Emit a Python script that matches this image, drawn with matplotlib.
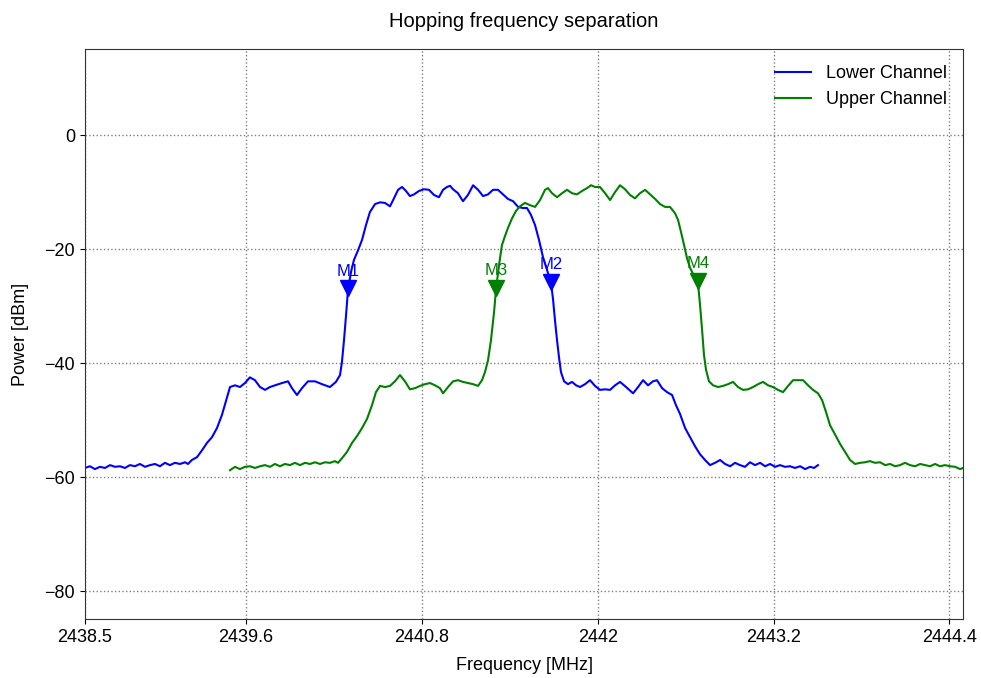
import matplotlib
matplotlib.use("Agg")
import matplotlib.pyplot as plt

plt.rcParams['font.family'] = ['Liberation Sans', 'DejaVu Sans']

# ---- data (MHz, dBm) ----
lower_freq = [2438.500, 2438.534, 2438.568, 2438.602, 2438.637, 2438.671, 2438.705, 2438.739,
              2438.773, 2438.807, 2438.841, 2438.875, 2438.910, 2438.944, 2438.978, 2439.012,
              2439.046, 2439.080, 2439.114, 2439.149, 2439.183, 2439.203, 2439.230, 2439.265,
              2439.299, 2439.333, 2439.367, 2439.401, 2439.435, 2439.469, 2439.490, 2439.524,
              2439.558, 2439.592, 2439.626, 2439.660, 2439.695, 2439.729, 2439.763, 2439.797,
              2439.845, 2439.886, 2439.913, 2439.947, 2439.981, 2440.022, 2440.070, 2440.118,
              2440.172, 2440.213, 2440.241, 2440.254, 2440.268, 2440.282, 2440.295, 2440.316,
              2440.336, 2440.364, 2440.391, 2440.418, 2440.445, 2440.480, 2440.514, 2440.548,
              2440.582, 2440.609, 2440.637, 2440.664, 2440.691, 2440.718, 2440.746, 2440.780,
              2440.814, 2440.848, 2440.882, 2440.916, 2440.944, 2440.971, 2440.992, 2441.012,
              2441.046, 2441.080, 2441.114, 2441.149, 2441.183, 2441.217, 2441.251, 2441.285,
              2441.319, 2441.353, 2441.387, 2441.422, 2441.456, 2441.490, 2441.517, 2441.544,
              2441.572, 2441.599, 2441.626, 2441.654, 2441.681, 2441.695, 2441.708, 2441.722,
              2441.736, 2441.749, 2441.770, 2441.797, 2441.824, 2441.852, 2441.879, 2441.913,
              2441.947, 2441.981, 2442.015, 2442.050, 2442.084, 2442.118, 2442.152, 2442.193,
              2442.241, 2442.275, 2442.309, 2442.343, 2442.377, 2442.404, 2442.439, 2442.473,
              2442.507, 2442.534, 2442.561, 2442.596, 2442.630, 2442.664, 2442.698, 2442.732,
              2442.766, 2442.800, 2442.835, 2442.869, 2442.903, 2442.937, 2442.971, 2443.005,
              2443.039, 2443.073, 2443.108, 2443.142, 2443.176, 2443.210, 2443.244, 2443.278,
              2443.312, 2443.346, 2443.381, 2443.415, 2443.449, 2443.476, 2443.503]
lower_power = [-58.4, -58.1, -58.6, -58.2, -58.4, -57.9, -58.2, -58.1,
               -58.4, -57.9, -58.1, -57.7, -58.2, -57.9, -57.7, -58.1,
               -57.5, -57.9, -57.5, -57.7, -57.4, -57.7, -57.0, -56.5,
               -55.3, -54.0, -53.0, -51.4, -49.1, -46.1, -44.2, -43.9,
               -44.2, -43.5, -42.5, -43.0, -44.2, -44.7, -44.2, -43.9,
               -43.5, -43.2, -44.4, -45.6, -44.4, -43.2, -43.2, -43.7,
               -44.2, -43.3, -42.1, -39.8, -36.0, -31.6, -27.2, -24.0,
               -21.9, -20.2, -18.4, -15.8, -13.5, -12.1, -11.8, -11.9,
               -12.5, -11.1, -9.6, -9.1, -9.8, -10.7, -10.4, -9.8,
               -9.5, -9.6, -10.5, -10.9, -9.6, -9.1, -8.9, -9.5,
               -10.2, -11.6, -10.5, -8.8, -9.6, -10.7, -10.4, -9.6,
               -9.6, -10.4, -11.2, -11.6, -12.6, -12.8, -12.8, -14.0,
               -15.8, -18.4, -21.4, -23.7, -25.9, -28.9, -32.5, -36.0,
               -39.1, -41.6, -43.2, -43.7, -43.3, -43.9, -44.2, -43.7,
               -43.0, -44.0, -44.7, -44.6, -44.7, -43.9, -43.3, -44.2,
               -45.3, -44.2, -43.0, -43.9, -43.2, -43.0, -44.4, -45.1,
               -45.6, -47.4, -48.9, -51.4, -53.0, -54.6, -56.0, -57.0,
               -57.9, -57.5, -57.0, -57.7, -58.1, -57.5, -57.9, -58.2,
               -57.4, -57.9, -57.5, -58.1, -57.7, -58.2, -57.9, -58.2,
               -58.1, -58.4, -58.1, -58.6, -58.2, -58.4, -57.9]

upper_freq = [2439.490, 2439.524, 2439.558, 2439.592, 2439.626, 2439.660, 2439.695, 2439.729,
              2439.763, 2439.797, 2439.831, 2439.865, 2439.899, 2439.933, 2439.968, 2440.002,
              2440.036, 2440.070, 2440.104, 2440.138, 2440.172, 2440.206, 2440.227, 2440.254,
              2440.288, 2440.323, 2440.357, 2440.391, 2440.425, 2440.459, 2440.486, 2440.514,
              2440.548, 2440.582, 2440.616, 2440.650, 2440.684, 2440.718, 2440.753, 2440.787,
              2440.821, 2440.855, 2440.889, 2440.923, 2440.944, 2440.978, 2441.012, 2441.046,
              2441.080, 2441.114, 2441.149, 2441.183, 2441.210, 2441.230, 2441.251, 2441.271,
              2441.292, 2441.305, 2441.326, 2441.346, 2441.367, 2441.387, 2441.415, 2441.442,
              2441.469, 2441.503, 2441.538, 2441.572, 2441.606, 2441.640, 2441.660, 2441.688,
              2441.722, 2441.756, 2441.790, 2441.824, 2441.858, 2441.893, 2441.927, 2441.954,
              2441.981, 2442.015, 2442.050, 2442.084, 2442.118, 2442.152, 2442.186, 2442.220,
              2442.254, 2442.288, 2442.323, 2442.357, 2442.391, 2442.425, 2442.459, 2442.493,
              2442.527, 2442.548, 2442.568, 2442.589, 2442.609, 2442.630, 2442.657, 2442.684,
              2442.698, 2442.712, 2442.725, 2442.739, 2442.759, 2442.787, 2442.821, 2442.855,
              2442.889, 2442.923, 2442.957, 2442.991, 2443.026, 2443.060, 2443.094, 2443.128,
              2443.162, 2443.196, 2443.230, 2443.264, 2443.299, 2443.333, 2443.367, 2443.401,
              2443.435, 2443.469, 2443.503, 2443.531, 2443.558, 2443.585, 2443.619, 2443.654,
              2443.688, 2443.722, 2443.756, 2443.790, 2443.824, 2443.858, 2443.892, 2443.927,
              2443.961, 2443.995, 2444.029, 2444.063, 2444.097, 2444.131, 2444.166, 2444.200,
              2444.234, 2444.268, 2444.302, 2444.336, 2444.370, 2444.404, 2444.439, 2444.473,
              2444.493]
upper_power = [-58.8, -58.2, -58.6, -58.2, -58.1, -58.4, -58.1, -57.9,
               -58.2, -57.7, -58.1, -57.7, -57.9, -57.5, -57.9, -57.5,
               -57.7, -57.4, -57.7, -57.4, -57.5, -57.2, -57.5, -56.7,
               -55.6, -54.0, -52.8, -51.4, -49.8, -47.4, -45.1, -44.0,
               -44.2, -44.0, -43.2, -42.1, -43.2, -44.6, -44.4, -44.0,
               -43.7, -43.5, -43.9, -44.4, -45.3, -44.2, -43.2, -43.0,
               -43.3, -43.5, -43.7, -44.0, -43.0, -41.6, -39.5, -36.0,
               -31.1, -27.2, -22.8, -19.3, -17.7, -16.3, -14.6, -13.3,
               -12.5, -11.9, -12.3, -12.6, -11.4, -9.6, -9.3, -10.2,
               -10.9, -10.2, -9.6, -10.2, -10.4, -9.8, -9.3, -8.8,
               -9.1, -9.1, -10.2, -11.4, -10.0, -8.8, -9.5, -10.5,
               -11.1, -10.2, -9.6, -10.4, -11.2, -12.1, -12.6, -12.6,
               -13.7, -14.9, -17.0, -19.3, -21.6, -23.3, -24.7, -26.0,
               -29.8, -34.2, -38.6, -41.2, -43.2, -43.9, -44.2, -44.0,
               -43.7, -43.3, -44.2, -44.7, -44.6, -44.2, -43.7, -43.3,
               -43.9, -44.2, -44.7, -45.1, -44.0, -43.0, -43.0, -43.0,
               -43.9, -44.7, -45.3, -46.5, -48.6, -50.9, -52.5, -54.2,
               -55.6, -57.0, -57.7, -57.5, -57.4, -57.2, -57.5, -57.4,
               -57.9, -57.7, -58.1, -57.9, -57.5, -57.9, -58.1, -57.7,
               -57.9, -58.1, -57.7, -58.1, -57.9, -58.1, -58.2, -58.6,
               -58.4]

marker_names = ['M1', 'M2', 'M3', 'M4']
marker_freq = [2440.295, 2441.681, 2441.305, 2442.684]
marker_power = [-26.9, -25.8, -26.8, -25.6]
marker_colors = ['blue', 'blue', 'green', 'green']

xtick_pos = [2438.5, 2439.6, 2440.8, 2442.0, 2443.2, 2444.4]
xtick_labels = ['2438.5', '2439.6', '2440.8', '2442', '2443.2', '2444.4']
ytick_pos = [-80, -60, -40, -20, 0]

fig = plt.figure(figsize=(9.81, 6.78), dpi=100)
ax = fig.add_axes([0.0866, 0.087, 0.8951, 0.8407])

ax.plot(lower_freq, lower_power, color='blue', lw=1.5, label='Lower Channel')
ax.plot(upper_freq, upper_power, color='green', lw=1.5, label='Upper Channel')

for name, fx, py, c in zip(marker_names, marker_freq, marker_power, marker_colors):
    ax.plot([fx], [py], marker='v', color=c, markersize=12, linestyle='none')
    ax.annotate(name, (fx, py), xytext=(0, 7), textcoords='offset points',
                ha='center', va='bottom', color=c, fontsize=12)

ax.set_xlim(2438.5, 2444.493)
ax.set_ylim(-84.9, 15.1)
ax.set_xticks(xtick_pos)
ax.set_xticklabels(xtick_labels)
ax.set_yticks(ytick_pos)
ax.tick_params(labelsize=13)
ax.grid(True, linestyle=':', color='gray', linewidth=1.0)
for s in ax.spines.values():
    s.set_color('#333333')

ax.set_title('Hopping frequency separation', fontsize=14.5, pad=16)
ax.set_xlabel('Frequency [MHz]', fontsize=13, labelpad=8)
ax.set_ylabel('Power [dBm]', fontsize=13, labelpad=11)
ax.legend(loc='upper right', fontsize=13, frameon=False)

fig.savefig('out.png', dpi=100)
